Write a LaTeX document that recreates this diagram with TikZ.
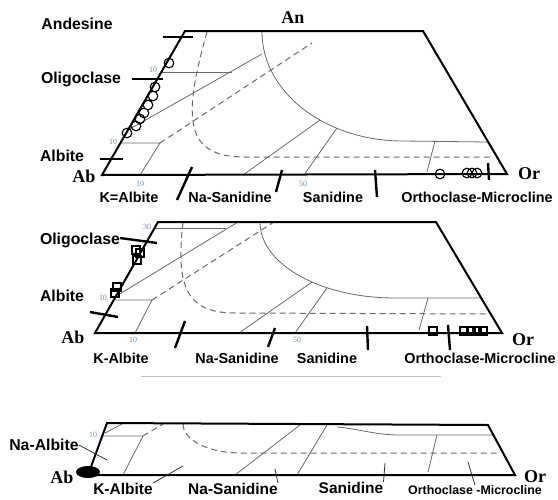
\documentclass[tikz,border=0pt]{standalone}
\usepackage{fontspec}
\setmainfont{Liberation Sans}
\newfontfamily\romfont{Liberation Serif}
\definecolor{linegray}{RGB}{105,105,105}
\definecolor{numblue}{RGB}{110,140,190}
\begin{document}
\begin{tikzpicture}[x=1pt,y=-1pt]
 \tikzset{lab/.style={font=\bfseries\fontsize{14.4}{16}\selectfont, inner sep=0pt},
  sidelab/.style={font=\bfseries\fontsize{15.8}{17}\selectfont, inner sep=0pt},
  endlab/.style={font=\romfont\bfseries\fontsize{18}{20}\selectfont, inner sep=0pt},
  num/.style={font=\romfont\fontsize{8}{9}\selectfont, text=numblue, inner sep=0pt},
  frame/.style={line width=2pt, line join=miter},
  field/.style={line width=0.8pt, draw=linegray},
  bound/.style={line width=1pt, draw=linegray, dash pattern=on 6pt off 4pt},
  tickline/.style={line width=2.4pt},
  grain/.style={line width=1.1pt}}
  \useasboundingbox (0,0) rectangle (558,499);
  % upper diagram
  \coordinate (Ab1) at (102,175);
  \coordinate (Or1) at (507,174);
  \coordinate (tl1) at (185,31);
  \coordinate (tr1) at (423,31);
  \coordinate (p1a) at (320,120);
  \coordinate (p1b) at (337,128);
  \coordinate (p1c) at (435,141);
  \coordinate (q1) at (160,143);
  \node[endlab] (ab1) at (84,176) {Ab};
  \node[endlab] (or1) at (529,174) {Or};
  \node[endlab] (an1) at (293,18) {An};
  \node[sidelab] (andesine) at (77,24) {Andesine};
  \node[sidelab] (oligo1) at (81,79) {Oligoclase};
  \node[sidelab] (albite1) at (62,156) {Albite};
  \node[lab] (kab1) at (129,197) {K=Albite};
  \node[lab] (nasan1) at (230,197) {Na-Sanidine};
  \node[lab] (san1) at (333,197) {Sanidine};
  \node[lab] (ortho1) at (477,197) {Orthoclase-Microcline};
  \node[num] at (153,70) {10};
  \node[num] at (113,142) {10};
  \node[num] at (140,184) {10};
  \node[num] at (303,184) {50};
  \draw[field] (161,72) -- (232,72);
  \draw[field] (120,143) -- (q1) -- (140,175);
  \draw[field] (128,130) -- (262,54);
  \draw[field] (262,32) .. controls (262,92) and (325,141) .. (403,141) -- (488,142);
  \draw[field] (p1a) -- (243,175);
  \draw[field] (p1b) -- (304,175);
  \draw[field] (p1c) -- (427,172);
  \draw[bound] (q1) -- (312,43);
  \draw[bound] (207,32) .. controls (182,120) and (185,157) .. (245,157) -- (494,157);
  \draw[frame] (Ab1) -- (tl1) -- (tr1) -- (Or1) -- cycle;
  \draw[tickline] (163,37) -- (193,37);
  \draw[tickline] (132,79) -- (163,79);
  \draw[tickline] (100,159) -- (123,159);
  \draw[tickline] (192,167) -- (177,200);
  \draw[tickline] (282,170) -- (276,192);
  \draw[tickline] (375,170) -- (377,197);
  \draw[tickline] (488,163) -- (489,180);
  \draw[grain] (169,63) circle (4.8) (155,87) circle (4.8) (153,96) circle (4.8)
    (148,105) circle (4.8) (144,113) circle (4.8) (140,119) circle (4.8)
    (136,126) circle (4.8) (127,133) circle (4.8);
  \draw[grain] (440,174) circle (4.8) (467,173) circle (4.8) (472,173) circle (4.8)
    (477,173) circle (4.8);
  % middle diagram
  \coordinate (Ab2) at (95,333);
  \coordinate (Or2) at (502,333);
  \coordinate (tl2) at (158,222);
  \coordinate (tr2) at (436,222);
  \coordinate (p2a) at (312,282);
  \coordinate (p2b) at (327,288);
  \coordinate (p2c) at (428,298);
  \coordinate (q2) at (152,300);
  \node[endlab] (ab2) at (73,337) {Ab};
  \node[endlab] (or2) at (523,340) {Or};
  \node[sidelab] (oligo2) at (80,240) {Oligoclase};
  \node[sidelab] (albite2) at (62,296) {Albite};
  \node[lab] (kab2) at (121,358) {K-Albite};
  \node[lab] (nasan2) at (237,358) {Na-Sanidine};
  \node[lab] (san2) at (327,358) {Sanidine};
  \node[lab] (ortho2) at (480,358) {Orthoclase-Microcline};
  \node[num] at (147,227) {30};
  \node[num] at (103,298) {10};
  \node[num] at (133,340) {10};
  \node[num] at (297,340) {50};
  \draw[field] (155,228) -- (226,228);
  \draw[field] (114,300) -- (q2) -- (135,333);
  \draw[field] (118,295) -- (238,222);
  \draw[field] (260,222) .. controls (260,264) and (320,298) .. (395,298) -- (480,298);
  \draw[field] (p2a) -- (239,333);
  \draw[field] (p2b) -- (295,333);
  \draw[field] (p2c) -- (419,330);
  \draw[bound] (q2) -- (274,222);
  \draw[bound] (183,222) .. controls (176,285) and (185,313) .. (235,313) -- (488,314);
  \draw[frame] (Ab2) -- (tl2) -- (tr2) -- (Or2) -- cycle;
  \draw[tickline] (120,238) -- (157,243);
  \draw[tickline] (90,312) -- (118,317);
  \draw[tickline] (185,321) -- (175,348);
  \draw[tickline] (275,328) -- (268,347);
  \draw[tickline] (367,326) -- (368,350);
  \draw[tickline] (448,325) -- (450,350);
  \draw[grain] (132,246) rectangle +(8,8) (136,249) rectangle +(8,8)
    (133,256) rectangle +(8,8) (113,283) rectangle +(8,8) (111,289) rectangle +(8,8);
  \draw[grain] (429,327) rectangle +(8,8) (460,327) rectangle +(8,8)
    (467,327) rectangle +(8,8) (473,327) rectangle +(8,8) (479,327) rectangle +(8,8);
  \draw[linegray!40, line width=0.8pt] (141,376) -- (441,376);
  % lower diagram
  \coordinate (Ab3) at (88,475);
  \coordinate (Or3) at (515,475);
  \coordinate (tl3) at (107,423);
  \coordinate (tr3) at (488,425);
  \coordinate (q3) at (143,436);
  \coordinate (k3) at (183,466);
  \coordinate (n3) at (275,469);
  \coordinate (s3) at (385,463);
  \coordinate (o3) at (468,462);
  \coordinate (na3) at (107,460);
  \node[endlab] (ab3) at (62,477) {Ab};
  \node[endlab] (or3) at (535,477) {Or};
  \node[sidelab] (naalb) at (44,445) {Na-Albite};
  \node[lab, font=\bfseries\fontsize{15.5}{17}\selectfont] (kab3) at (123,489) {K-Albite};
  \node[lab, font=\bfseries\fontsize{15.5}{17}\selectfont] (nasan3) at (233,489) {Na-Sanidine};
  \node[lab, font=\bfseries\fontsize{15.5}{17}\selectfont] (san3) at (351,488) {Sanidine};
  \node[lab, font=\bfseries\fontsize{12.4}{14}\selectfont] (ortho3) at (475,490) {Orthoclase -Microcline};
  \node[num] at (93,435) {10};
  \draw[field] (102,436) -- (q3) -- (123,475);
  \draw[field] (105,433) -- (122,424);
  \draw[bound] (q3) -- (163,424);
  \draw[bound] (183,424) .. controls (183,440) and (209,453) .. (240,453) -- (497,453);
  \draw[field] (300,425) -- (235,475);
  \draw[field] (327,425) -- (297,475);
  \draw[field] (337,427) .. controls (360,429) and (375,435) .. (400,435) -- (492,435);
  \draw[field] (437,435) -- (428,472);
  \draw[frame] (Ab3) -- (tl3) -- (tr3) -- (Or3) -- cycle;
  \fill (88,472) ellipse (12 and 6);
  \draw[field, draw=black!80] (naalb.east) -- (na3);
  \draw[field, draw=black!80] (kab3.north east) -- (k3);
  \draw[field, draw=black!80] (nasan3.north east) -- (n3);
  \draw[field, draw=black!80] (san3.north east) -- (s3);
  \draw[field, draw=black!80] (ortho3.north) -- (o3);
\end{tikzpicture}
\end{document}
